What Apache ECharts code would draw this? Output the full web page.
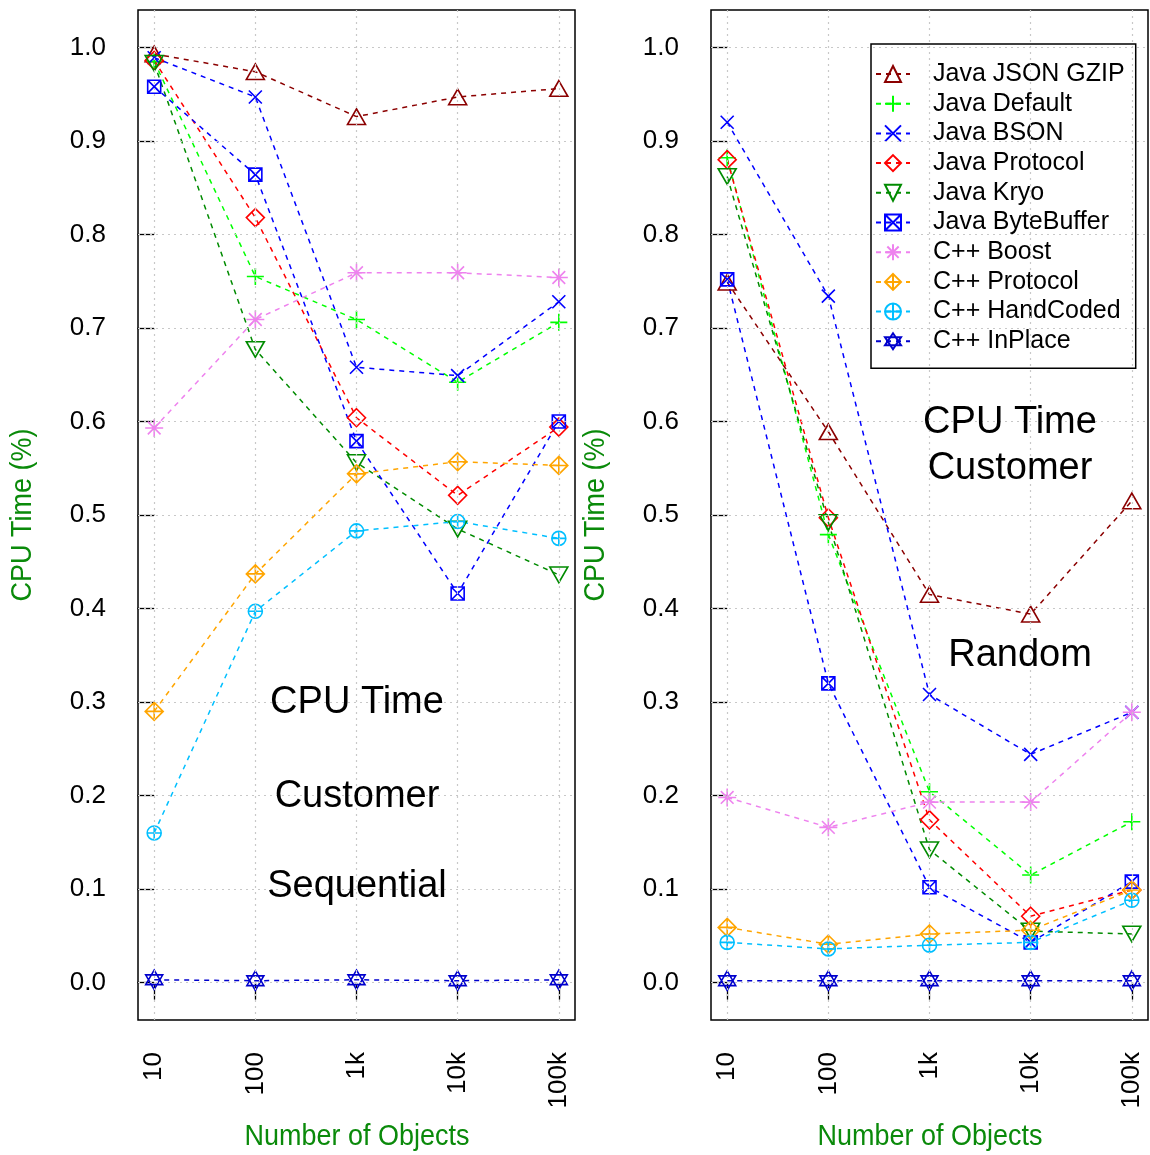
<!DOCTYPE html>
<html>
<head>
<meta charset="utf-8">
<script src="https://cdn.jsdelivr.net/npm/echarts@6/dist/echarts.min.js"></script>
<style>
html,body{margin:0;padding:0;background:#fff;}
#chart{width:1150px;height:1155px;}
</style>
</head>
<body>
<div id="chart"></div>
<script>
// ---- data ----
const categories = ['10', '100', '1k', '10k', '100k'];
const yTicks = [0, 0.1, 0.2, 0.3, 0.4, 0.5, 0.6, 0.7, 0.8, 0.9, 1.0];
const seriesNames = ['Java JSON GZIP', 'Java Default', 'Java BSON', 'Java Protocol', 'Java Kryo',
  'Java ByteBuffer', 'C++ Boost', 'C++ Protocol', 'C++ HandCoded', 'C++ InPlace'];
const xTitle = 'Number of Objects';
const yTitle = 'CPU Time (%)';

// Sequential (left panel)
const jsonGzipSeq    = [0.993, 0.974, 0.926, 0.947, 0.956];
const defaultSeq     = [0.985, 0.755, 0.709, 0.642, 0.706];
const bsonSeq        = [0.989, 0.947, 0.658, 0.649, 0.728];
const protocolSeq    = [0.986, 0.818, 0.604, 0.521, 0.594];
const kryoSeq        = [0.983, 0.677, 0.556, 0.485, 0.436];
const byteBufferSeq  = [0.958, 0.864, 0.579, 0.416, 0.600];
const boostSeq       = [0.593, 0.709, 0.759, 0.759, 0.754];
const cppProtocolSeq = [0.290, 0.437, 0.544, 0.557, 0.553];
const handCodedSeq   = [0.160, 0.397, 0.483, 0.493, 0.475];
const inPlaceSeq     = [0.003, 0.002, 0.003, 0.002, 0.003];

// Random (right panel)
const jsonGzipRnd    = [0.749, 0.589, 0.415, 0.394, 0.515];
const defaultRnd     = [0.882, 0.479, 0.204, 0.115, 0.172];
const bsonRnd        = [0.920, 0.734, 0.308, 0.244, 0.289];
const protocolRnd    = [0.880, 0.497, 0.174, 0.071, 0.099];
const kryoRnd        = [0.862, 0.492, 0.142, 0.055, 0.052];
const byteBufferRnd  = [0.752, 0.320, 0.102, 0.043, 0.108];
const boostRnd       = [0.198, 0.166, 0.193, 0.193, 0.289];
const cppProtocolRnd = [0.059, 0.041, 0.052, 0.056, 0.099];
const handCodedRnd   = [0.043, 0.036, 0.040, 0.043, 0.088];
const inPlaceRnd     = [0.002, 0.002, 0.002, 0.002, 0.002];

const seqData = [jsonGzipSeq, defaultSeq, bsonSeq, protocolSeq, kryoSeq, byteBufferSeq, boostSeq, cppProtocolSeq, handCodedSeq, inPlaceSeq];
const rndData = [jsonGzipRnd, defaultRnd, bsonRnd, protocolRnd, kryoRnd, byteBufferRnd, boostRnd, cppProtocolRnd, handCodedRnd, inPlaceRnd];

// ---- styles ----
const colors = ['#8B0000', '#00FF00', '#0000FF', '#FF0000', '#008B00', '#0000FF', '#EE82EE', '#FFA500', '#00BFFF', '#0000CD'];
const symbols = [
  'path://M0,-10L8.66,5L-8.66,5Z',
  'path://M0,-10L0,10M-10,0L10,0',
  'path://M-7,-7L7,7M-7,7L7,-7',
  'path://M0,-10L10,0L0,10L-10,0Z',
  'path://M0,10L8.66,-5L-8.66,-5Z',
  'path://M-7,-7L7,-7L7,7L-7,7ZM-7,-7L7,7M-7,7L7,-7',
  'path://M0,-10L0,10M-10,0L10,0M-7.07,-7.07L7.07,7.07M-7.07,7.07L7.07,-7.07',
  'path://M0,-10L10,0L0,10L-10,0ZM0,-10L0,10M-10,0L10,0',
  'path://M-8,0A8,8 0 1,0 8,0A8,8 0 1,0 -8,0ZM0,-8L0,8M-8,0L8,0',
  'path://M0,-10L8.66,5L-8.66,5ZM0,10L8.66,-5L-8.66,-5Z'
];
const symbolSizes = [[18, 15.6], 17, 13, 18, [18, 15.6], 13, 18, 18, 14, [17, 19.6]];

const FONT = '"Liberation Sans", Arial, Helvetica, sans-serif';
const titleGreen = '#0A8A0A';

const grids = [
  {left: 138, top: 10, width: 437, height: 1010},
  {left: 711, top: 10, width: 437, height: 1010}
];

function xAxis(gi) {
  return {
    type: 'value', gridIndex: gi, min: -0.16, max: 4.16,
    axisLine: {show: false},
    axisTick: {show: true, length: 17, inside: false, customValues: [0, 1, 2, 3, 4], lineStyle: {color: '#000', width: 1.3}},
    axisLabel: {customValues: [0, 1, 2, 3, 4], rotate: 90, margin: 32, fontSize: 26, fontFamily: FONT, color: '#000',
      formatter: v => categories[Math.round(v)] || ''},
    splitLine: {show: false}
  };
}
function yAxis(gi) {
  return {
    type: 'value', gridIndex: gi, min: -0.04, max: 1.04,
    axisLine: {show: false},
    axisTick: {show: true, length: 17, inside: false, customValues: yTicks, lineStyle: {color: '#000', width: 1.3}},
    axisLabel: {customValues: yTicks, margin: 32, fontSize: 26, fontFamily: FONT, color: '#000',
      formatter: v => v.toFixed(1)},
    splitLine: {show: false}
  };
}

const gridLineStyle = {color: '#C8C8C8', type: [2, 4], width: 1.2};
function gridLinesSeries(gi) {
  const lines = [];
  categories.forEach((c, i) => lines.push({xAxis: i}));
  yTicks.forEach(v => lines.push({yAxis: v}));
  return {
    type: 'line', xAxisIndex: gi, yAxisIndex: gi, data: [], silent: true, z: 1,
    markLine: {silent: true, symbol: 'none', label: {show: false}, lineStyle: gridLineStyle, animation: false, data: lines}
  };
}

const series = [gridLinesSeries(0), gridLinesSeries(1)];
[seqData, rndData].forEach((panel, gi) => {
  panel.forEach((vals, si) => {
    series.push({
      name: seriesNames[si], type: 'line', xAxisIndex: gi, yAxisIndex: gi,
      data: vals.map((v, i) => [i, v]),
      symbol: symbols[si], symbolSize: symbolSizes[si],
      lineStyle: {color: colors[si], width: 1.5, type: [5, 5]},
      itemStyle: {color: 'rgba(0,0,0,0)', borderColor: colors[si], borderWidth: 1.6},
      emphasis: {disabled: true},
      animation: false, z: 3
    });
  });
});

const annot = (text, x, y) => ({type: 'text', x: x, y: y,
  style: {text: text, fontSize: 38, fontFamily: FONT, fill: '#000', align: 'center', verticalAlign: 'middle'}, z: 10});
const axisTitle = (text, x, y, rot) => ({type: 'text', x: x, y: y, rotation: rot, scaleX: 0.93,
  style: {text: text, fontSize: 29, fontFamily: FONT, fill: titleGreen, align: 'center', verticalAlign: 'middle'}, z: 10});

const option = {
  backgroundColor: '#fff',
  animation: false,
  grid: grids.map(g => Object.assign({show: true, borderColor: '#000', borderWidth: 1.5, backgroundColor: 'transparent',
    containLabel: false, outerBoundsMode: 'none'}, g)),
  xAxis: [xAxis(0), xAxis(1)],
  yAxis: [yAxis(0), yAxis(1)],
  legend: {
    data: seriesNames, orient: 'vertical', left: 871, top: 44,
    padding: [17, 11, 14, 4], itemGap: 3.7, itemWidth: 34, itemHeight: 20,
    borderColor: '#000', borderWidth: 1.5, borderRadius: 0,
    textStyle: {fontSize: 25, fontFamily: FONT, color: '#000', padding: [0, 0, 0, 18], lineHeight: 26},
    selectedMode: false
  },
  graphic: [
    annot('CPU Time', 357, 703), annot('Customer', 357, 797), annot('Sequential', 357, 887),
    annot('CPU Time', 1010, 423), annot('Customer', 1010, 469), annot('Random', 1020, 656),
    axisTitle(yTitle, 23, 515, Math.PI / 2), axisTitle(yTitle, 596, 515, Math.PI / 2),
    axisTitle(xTitle, 357, 1137, 0), axisTitle(xTitle, 930, 1137, 0)
  ],
  series: series
};

const chart = echarts.init(document.getElementById('chart'), null, {renderer: 'canvas'});
chart.setOption(option);
</script>
</body>
</html>
